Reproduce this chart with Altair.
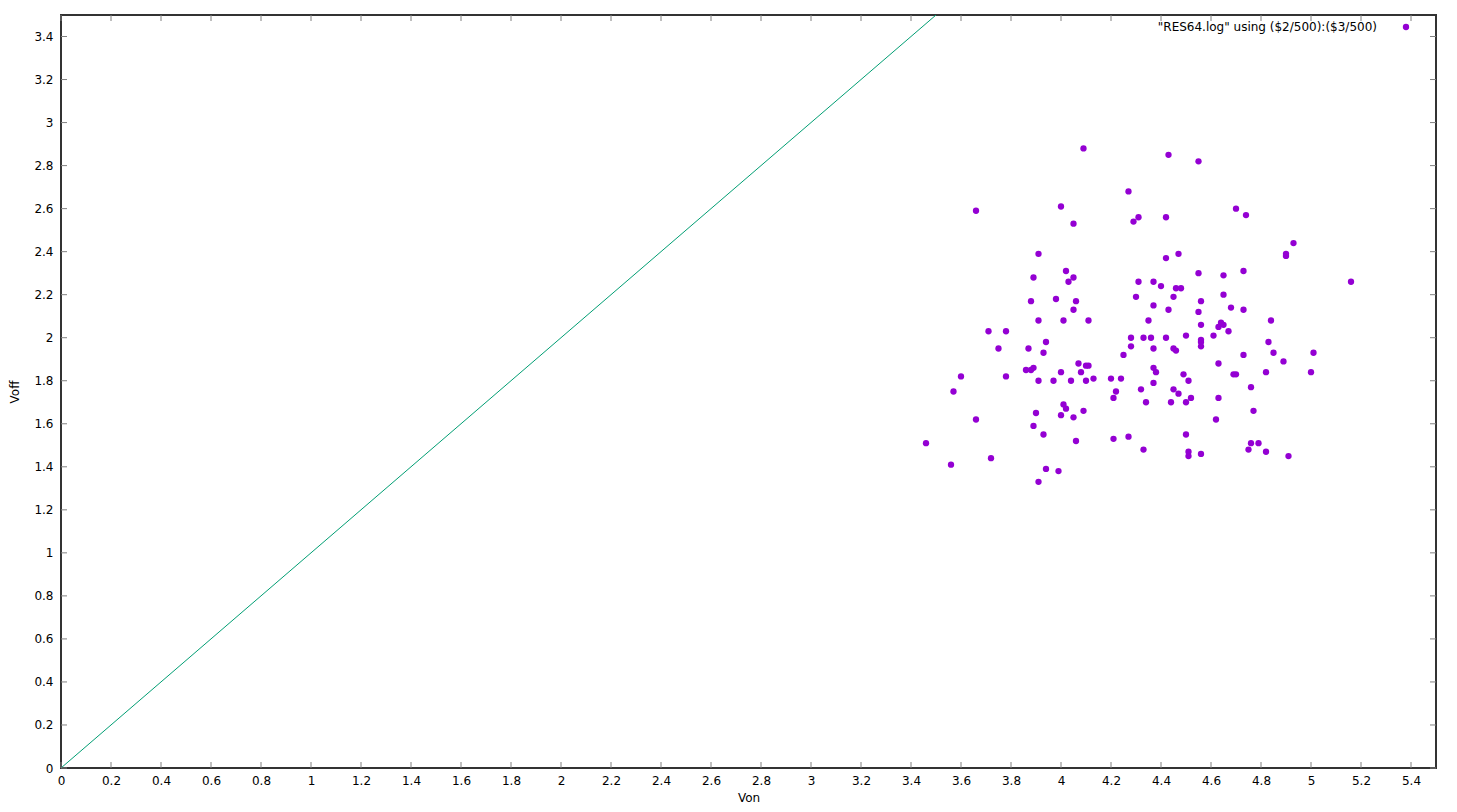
import altair as alt
import pandas as pd

# ---- data ----
von = [3.46, 3.56, 3.57, 3.60, 3.66, 3.66, 3.71, 3.72, 3.75, 3.78,
       3.78, 3.87, 3.88, 3.89, 3.91, 3.91, 3.89, 3.88, 3.86, 3.91,
       3.93, 3.94, 3.90, 3.89, 3.93, 3.94, 3.91, 3.98, 3.97, 4.00,
       4.00, 4.00, 4.01, 4.01, 4.02, 3.99, 4.02, 4.03, 4.05, 4.05,
       4.05, 4.06, 4.04, 4.05, 4.07, 4.06, 4.08, 4.09, 4.10, 4.11,
       4.10, 4.09, 4.11, 4.13, 4.20, 4.22, 4.21, 4.21, 4.24, 4.25,
       4.27, 4.28, 4.28, 4.27, 4.29, 4.31, 4.30, 4.31, 4.33, 4.32,
       4.33, 4.34, 4.35, 4.37, 4.37, 4.36, 4.37, 4.37, 4.37, 4.38,
       4.40, 4.42, 4.42, 4.43, 4.43, 4.42, 4.45, 4.46, 4.48, 4.47,
       4.45, 4.46, 4.45, 4.44, 4.47, 4.49, 4.50, 4.50, 4.51, 4.52,
       4.50, 4.51, 4.51, 4.55, 4.55, 4.55, 4.56, 4.56, 4.56, 4.56,
       4.56, 4.56, 4.61, 4.62, 4.63, 4.63, 4.63, 4.64, 4.65, 4.65,
       4.65, 4.67, 4.68, 4.69, 4.70, 4.70, 4.73, 4.73, 4.74, 4.73,
       4.75, 4.76, 4.76, 4.77, 4.79, 4.82, 4.82, 4.83, 4.84, 4.85,
       4.90, 4.90, 4.89, 4.91, 4.93, 5.00, 5.01, 5.16]
voff = [1.51, 1.41, 1.75, 1.82, 2.59, 1.62, 2.03, 1.44, 1.95, 2.03,
        1.82, 1.95, 2.17, 2.28, 2.39, 2.08, 1.86, 1.85, 1.85, 1.80,
        1.93, 1.98, 1.65, 1.59, 1.55, 1.39, 1.33, 2.18, 1.80, 2.61,
        1.84, 1.64, 2.08, 1.69, 1.67, 1.38, 2.31, 2.26, 2.28, 2.13,
        2.53, 2.17, 1.80, 1.63, 1.88, 1.52, 1.84, 2.88, 1.87, 1.87,
        1.80, 1.66, 2.08, 1.81, 1.81, 1.75, 1.72, 1.53, 1.81, 1.92,
        2.68, 1.96, 2.00, 1.54, 2.54, 2.56, 2.19, 2.26, 2.00, 1.76,
        1.48, 1.70, 2.08, 2.15, 2.26, 2.00, 1.95, 1.86, 1.79, 1.84,
        2.24, 2.56, 2.37, 2.85, 2.13, 2.00, 2.19, 2.23, 2.23, 2.39,
        1.95, 1.94, 1.76, 1.70, 1.74, 1.83, 2.01, 1.70, 1.80, 1.72,
        1.55, 1.47, 1.45, 2.82, 2.30, 2.12, 2.17, 2.06, 1.99, 1.98,
        1.96, 1.46, 2.01, 1.62, 2.05, 1.72, 1.88, 2.07, 2.06, 2.29,
        2.20, 2.03, 2.14, 1.83, 1.83, 2.60, 2.13, 2.31, 2.57, 1.92,
        1.48, 1.51, 1.77, 1.66, 1.51, 1.84, 1.47, 1.98, 2.08, 1.93,
        2.39, 2.38, 1.89, 1.45, 2.44, 1.84, 1.93, 2.26]

# reference line y = x
line_x = [0.0, 3.5]
line_y = [0.0, 3.5]

x_ticks = [0, 0.2, 0.4, 0.6, 0.8, 1, 1.2, 1.4, 1.6, 1.8, 2, 2.2, 2.4, 2.6,
           2.8, 3, 3.2, 3.4, 3.6, 3.8, 4, 4.2, 4.4, 4.6, 4.8, 5, 5.2, 5.4]
y_ticks = [0, 0.2, 0.4, 0.6, 0.8, 1, 1.2, 1.4, 1.6, 1.8, 2, 2.2, 2.4, 2.6,
           2.8, 3, 3.2, 3.4]

legend_label = '"RES64.log" using ($2/500):($3/500)'
x_title = "Von"
y_title = "Voff"

# ---- layout / style ----
W, H = 1375, 753
FONT = "DejaVu Sans"
PT_COLOR = "#9400d3"
LINE_COLOR = "#009e73"
TICK_COLOR = "#808080"
TICK_LEN = 6

xscale = alt.Scale(domain=[0, 5.5], nice=False, zero=False)
yscale = alt.Scale(domain=[0, 3.5], nice=False, zero=False)
xaxis = alt.Axis(values=x_ticks, format=".1~f", title=x_title, ticks=False,
                 domain=False, grid=False, labelPadding=7,
                 titleY=33, titleBaseline="alphabetic",
                 labelFlush=False, labelOverlap=False)
yaxis = alt.Axis(values=y_ticks, format=".1~f", title=y_title, ticks=False,
                 domain=False, grid=False, labelPadding=8, titlePadding=12,
                 labelFlush=False, labelOverlap=False)

pts = pd.DataFrame({"von": von, "voff": voff})
points = alt.Chart(pts).mark_circle(size=40, color=PT_COLOR, opacity=1).encode(
    x=alt.X("von:Q", scale=xscale, axis=xaxis),
    y=alt.Y("voff:Q", scale=yscale, axis=yaxis),
)

line = alt.Chart(pd.DataFrame({"von": line_x, "voff": line_y})).mark_line(
    color=LINE_COLOR, strokeWidth=1, clip=True
).encode(x="von:Q", y="voff:Q")

xt = pd.DataFrame({"von": x_ticks})
yt = pd.DataFrame({"voff": y_ticks})
x_bottom = alt.Chart(xt).mark_rule(color=TICK_COLOR, strokeWidth=1).encode(
    x="von:Q", y=alt.value(H), y2=alt.value(H - TICK_LEN))
x_top = alt.Chart(xt).mark_rule(color=TICK_COLOR, strokeWidth=1).encode(
    x="von:Q", y=alt.value(0), y2=alt.value(TICK_LEN))
y_left = alt.Chart(yt).mark_rule(color=TICK_COLOR, strokeWidth=1).encode(
    y="voff:Q", x=alt.value(0), x2=alt.value(TICK_LEN))
y_right = alt.Chart(yt).mark_rule(color=TICK_COLOR, strokeWidth=1).encode(
    y="voff:Q", x=alt.value(W), x2=alt.value(W - TICK_LEN))

leg = pd.DataFrame({"label": [legend_label]})
leg_text = alt.Chart(leg).mark_text(
    align="right", baseline="middle", fontSize=12, font=FONT, color="black"
).encode(text="label:N", x=alt.value(W - 59), y=alt.value(12))
leg_pt = alt.Chart(leg).mark_circle(size=40, color=PT_COLOR, opacity=1).encode(
    x=alt.value(W - 30), y=alt.value(12))

chart = alt.layer(line, points, x_bottom, x_top, y_left, y_right, leg_text, leg_pt).properties(
    width=W, height=H,
    autosize=alt.AutoSizeParams(type="none"),
    padding={"left": 53, "top": 7, "right": 10, "bottom": 35},
).configure_view(
    stroke="#333333", strokeWidth=2
).configure_axis(
    labelFont=FONT, titleFont=FONT, labelFontSize=12, titleFontSize=12,
    titleFontWeight="normal", labelColor="black", titleColor="black",
)

chart.save("out.html", embed_options={"renderer": "svg", "actions": False})
